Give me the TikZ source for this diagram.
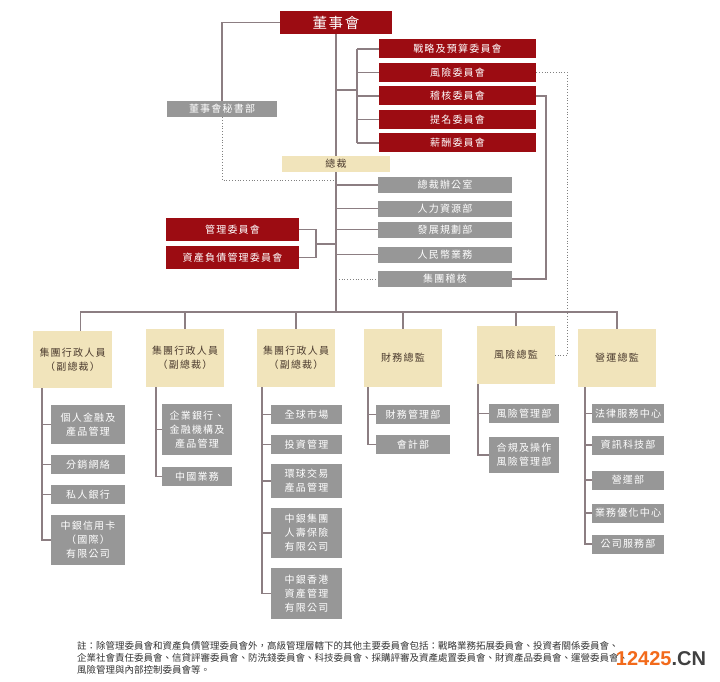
\documentclass[tikz,border=0pt]{standalone}
\usepackage{fontspec}
\setmainfont{Noto Sans CJK TC}
\newfontfamily\spaced{Noto Sans CJK TC}[LetterSpace=12]
\newfontfamily\wmfont{Liberation Sans}
\definecolor{bocred}{HTML}{9C0C12}
\definecolor{bocgrey}{HTML}{979797}
\definecolor{bocbeige}{HTML}{F1E4BB}
\definecolor{boctext}{HTML}{4B3A2E}
\definecolor{bocline}{HTML}{8C7E82}
\definecolor{wmorange}{HTML}{F26A1B}
\tikzset{
  box/.style={inner sep=0pt, align=center, font=\spaced\fontsize{10}{14}\selectfont},
  redbox/.style={box, fill=bocred, text=white},
  greybox/.style={box, fill=bocgrey, text=white},
  beigebox/.style={box, fill=bocbeige, text=boctext},
  link/.style={draw=bocline, line width=1.1pt},
  dotlink/.style={draw=gray, line width=0.8pt, dotted},
}
\begin{document}
\begin{tikzpicture}[x=1pt,y=-1pt]
    \useasboundingbox (0,0) rectangle (720,682);

    \node[redbox, minimum width=112, minimum height=23, font=\spaced\fontsize{14.5}{16}\selectfont] (board) at (336,22.5) {董事會};
    \node[greybox, minimum width=110, minimum height=16] (secretary) at (222,109) {董事會秘書部};

    \node[redbox, minimum width=157, minimum height=19] (strat) at (457.5,49) {戰略及預算委員會};
    \node[redbox, minimum width=157, minimum height=19] (riskc) at (457.5,72.5) {風險委員會};
    \node[redbox, minimum width=157, minimum height=19] (auditc) at (457.5,96) {稽核委員會};
    \node[redbox, minimum width=157, minimum height=19] (nomc) at (457.5,119.5) {提名委員會};
    \node[redbox, minimum width=157, minimum height=19] (payc) at (457.5,143) {薪酬委員會};

    \node[beigebox, minimum width=108, minimum height=16] (president) at (336,164) {總裁};

    \node[greybox, minimum width=134, minimum height=16] (office) at (445,185) {總裁辦公室};
    \node[greybox, minimum width=134, minimum height=16] (hr) at (445,208.5) {人力資源部};
    \node[greybox, minimum width=134, minimum height=16] (plan) at (445,229.5) {發展規劃部};
    \node[greybox, minimum width=134, minimum height=16] (rmb) at (445,254.5) {人民幣業務};
    \node[greybox, minimum width=134, minimum height=16] (grpaudit) at (445,279) {集團稽核};

    \node[redbox, minimum width=133, minimum height=23] (mgmt) at (232.5,229.5) {管理委員會};
    \node[redbox, minimum width=133, minimum height=23] (alm) at (232.5,257.5) {資產負債管理委員會};

    \node[beigebox, minimum width=79, minimum height=57] (vp1) at (72.5,359.5) {集團行政人員\\（副總裁）};
    \node[beigebox, minimum width=78, minimum height=58] (vp2) at (185,358) {集團行政人員\\（副總裁）};
    \node[beigebox, minimum width=78, minimum height=58] (vp3) at (296,358) {集團行政人員\\（副總裁）};
    \node[beigebox, minimum width=78, minimum height=58] (cfo) at (403,358) {財務總監};
    \node[beigebox, minimum width=78, minimum height=58] (cro) at (516,355) {風險總監};
    \node[beigebox, minimum width=78, minimum height=58] (coo) at (617,358) {營運總監};

    \node[greybox, minimum width=74, minimum height=39] (pfm) at (88,424.5) {個人金融及\\產品管理};
    \node[greybox, minimum width=74, minimum height=19] (dist) at (88,464.5) {分銷網絡};
    \node[greybox, minimum width=74, minimum height=19] (pb) at (88,494.5) {私人銀行};
    \node[greybox, minimum width=74, minimum height=50] (card) at (88,540) {中銀信用卡\\（國際）\\有限公司};

    \node[greybox, minimum width=70, minimum height=51] (cb) at (197,429.5) {企業銀行、\\金融機構及\\產品管理};
    \node[greybox, minimum width=70, minimum height=19] (china) at (197,476.5) {中國業務};

    \node[greybox, minimum width=71, minimum height=19] (gm) at (306.5,414.5) {全球市場};
    \node[greybox, minimum width=71, minimum height=19] (im) at (306.5,444.5) {投資管理};
    \node[greybox, minimum width=71, minimum height=34] (gtb) at (306.5,481) {環球交易\\產品管理};
    \node[greybox, minimum width=71, minimum height=50] (life) at (306.5,533) {中銀集團\\人壽保險\\有限公司};
    \node[greybox, minimum width=71, minimum height=51] (am) at (306.5,593.5) {中銀香港\\資產管理\\有限公司};

    \node[greybox, minimum width=74, minimum height=19] (fin) at (413,414.5) {財務管理部};
    \node[greybox, minimum width=74, minimum height=19] (acc) at (413,444.5) {會計部};

    \node[greybox, minimum width=70, minimum height=19] (rm) at (524,413.5) {風險管理部};
    \node[greybox, minimum width=70, minimum height=36] (comp) at (524,455) {合規及操作\\風險管理部};

    \node[greybox, minimum width=72, minimum height=19] (legal) at (628,413.5) {法律服務中心};
    \node[greybox, minimum width=72, minimum height=19] (it) at (628,445) {資訊科技部};
    \node[greybox, minimum width=72, minimum height=19] (ops) at (628,480) {營運部};
    \node[greybox, minimum width=72, minimum height=19] (bpc) at (628,513) {業務優化中心};
    \node[greybox, minimum width=72, minimum height=19] (corp) at (628,544) {公司服務部};

    \coordinate (cbr) at (357,0);
    \coordinate (mbr) at (316,0);
    \coordinate (rline) at (567,0);
    \coordinate (aline) at (546,0);
    \coordinate (bar) at (0,312);
    \coordinate (c1) at (42,0);
    \coordinate (c2) at (156,0);
    \coordinate (c3) at (262,0);
    \coordinate (c4) at (368,0);
    \coordinate (c5) at (478,0);
    \coordinate (c6) at (585,0);

    \draw[link] (board.south) -- (president.north);
    \draw[link] (president.south) -- (president.south |- bar);
    \draw[link] (board.west) -| (secretary.north);
    \draw[dotlink] (secretary.south) |- (board.south |- 0,180);

    \draw[link] (board.south |- 0,90) -- (cbr |- 0,90);
    \draw[link] (cbr |- strat.west) -- (cbr |- payc.west);
    \foreach \c in {strat,riskc,auditc,nomc,payc}
        \draw[link] (cbr |- \c.west) -- (\c.west);

    \draw[dotlink] (riskc.east) -| (rline |- cro.east) -- (cro.east);
    \draw[link] (auditc.east) -| (aline |- grpaudit.east) -- (grpaudit.east);

    \foreach \d in {office,hr,plan,rmb}
        \draw[link] (board.south |- \d.west) -- (\d.west);
    \draw[dotlink] (board.south |- grpaudit.west) -- (grpaudit.west);

    \draw[link] (mgmt.east) -| (mbr |- alm.east) -- (alm.east);
    \draw[link] (mbr |- 0,244) -- (board.south |- 0,244);

    \draw[link] (vp1.75) -- (vp1.75 |- bar) -- (coo.north |- bar) -- (coo.north);
    \foreach \v in {vp2,vp3,cfo,cro}
        \draw[link] (\v.north) -- (\v.north |- bar);

    \draw[link] (c1 |- vp1.south) |- (card.west);
    \foreach \n in {pfm,dist,pb}
        \draw[link] (c1 |- \n.west) -- (\n.west);
    \draw[link] (c2 |- vp2.south) |- (china.west);
    \draw[link] (c2 |- cb.west) -- (cb.west);
    \draw[link] (c3 |- vp3.south) |- (am.west);
    \foreach \n in {gm,im,gtb,life}
        \draw[link] (c3 |- \n.west) -- (\n.west);
    \draw[link] (c4 |- cfo.south) |- (acc.west);
    \draw[link] (c4 |- fin.west) -- (fin.west);
    \draw[link] (c5 |- cro.south) |- (comp.west);
    \draw[link] (c5 |- rm.west) -- (rm.west);
    \draw[link] (c6 |- coo.south) |- (corp.west);
    \foreach \n in {legal,it,ops,bpc}
        \draw[link] (c6 |- \n.west) -- (\n.west);

    \node[anchor=north west, align=left, inner sep=0pt, text=black!80, font=\fontsize{9.5}{12}\selectfont] (note) at (77,641)
        {註：除管理委員會和資產負債管理委員會外，高級管理層轄下的其他主要委員會包括：戰略業務拓展委員會、投資者關係委員會、\\
         企業社會責任委員會、信貸評審委員會、防洗錢委員會、科技委員會、採購評審及資產處置委員會、財資產品委員會、運營委員會、\\
         風險管理與內部控制委員會等。};
    \node[inner sep=0pt, font=\wmfont\bfseries\fontsize{20}{20}\selectfont] (wm) at (661,659) {\textcolor{wmorange}{12425}\textcolor{darkgray}{.CN}};
\end{tikzpicture}
\end{document}
